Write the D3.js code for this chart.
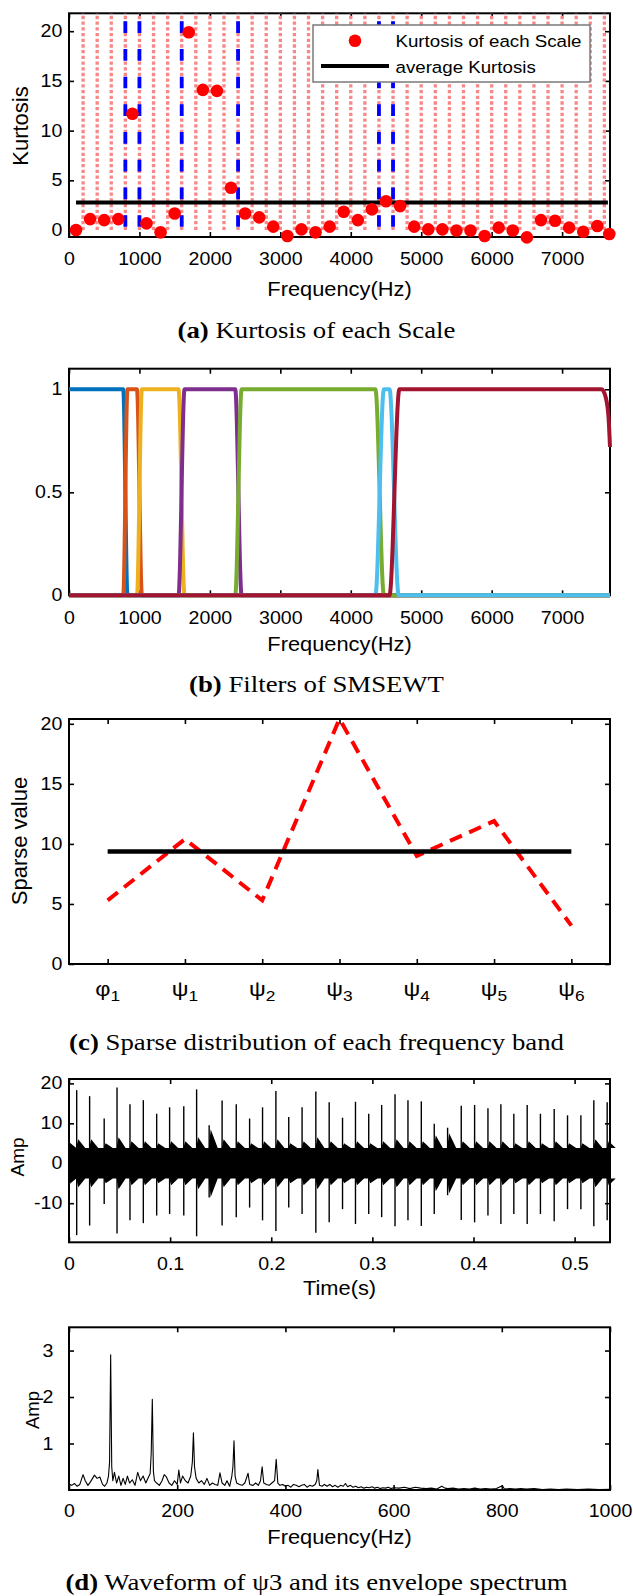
<!DOCTYPE html>
<html>
<head>
<meta charset="utf-8">
<title>SMSEWT analysis of the bearing signal</title>
<script src="https://cdn.jsdelivr.net/npm/d3@7/dist/d3.min.js"></script>
<style>
  html, body { margin: 0; padding: 0; background: #fff; }
  svg { display: block; }
</style>
</head>
<body>
<svg id="fig" width="633" height="1596" viewBox="0 0 633 1596"></svg>
<script>
// ---------------- data ----------------

// (a) kurtosis of each 200 Hz scale
const scaleCenters = [100,300,500,700,900,1100,1300,1500,1700,1900,2100,2300,2500,2700,2900,3100,3300,3500,3700,3900,
                      4100,4300,4500,4700,4900,5100,5300,5500,5700,5900,6100,6300,6500,6700,6900,7100,7300,7500,7670];
const kurtosis = [0.0,1.1,1.0,1.1,11.7,0.67,-0.23,1.67,19.9,14.1,14.0,4.25,1.67,1.27,0.34,-0.6,0.07,-0.23,0.34,1.84,
                  1.0,2.08,2.9,2.41,0.34,0.07,0.07,-0.05,-0.05,-0.6,0.24,-0.05,-0.74,1.0,0.93,0.24,-0.17,0.4,-0.4];
const avgKurtosis = 2.78;
const avgSpan = [100, 7650];
const scaleEdges = [200,400,600,800,1000,1200,1400,1600,1800,2000,2200,2400,2600,2800,3000,3200,3400,3600,3800,
                    4000,4200,4400,4600,4800,5000,5200,5400,5600,5800,6000,6200,6400,6600,6800,7000,7200,7400,7600];
const bandBoundaries = [800,1000,1600,2400,4400,4600];
const boundaryRange = [21, 0];
const freqTicks = [0,1000,2000,3000,4000,5000,6000,7000];
const kurtTicks = [0,5,10,15,20];

// (b) SMSEWT filter bank, breakpoints [Hz, gain]
const filterColors = ["#0072BD","#D95319","#EDB120","#7E2F8E","#77AC30","#4DBEEE","#A2142F"];
const filterPhi1 = [[0,1],[770,1],[830,0],[7680,0]];
const filterPsi1 = [[0,0],[770,0],[830,1],[965,1],[1035,0],[7680,0]];
const filterPsi2 = [[0,0],[965,0],[1035,1],[1555,1],[1640,0],[7680,0]];
const filterPsi3 = [[0,0],[1555,0],[1640,1],[2360,1],[2450,0],[7680,0]];
const filterPsi4 = [[0,0],[2360,0],[2450,1],[4350,1],[4470,0],[7680,0]];
const filterPsi5 = [[0,0],[4350,0],[4470,1],[4550,1],[4680,0],[7680,0]];
const filterPsi6 = [[0,0],[4550,0],[4690,1],[7560,1],[7620,0.96],[7660,0.86],[7680,0.72]];
const gainTicks = [0,0.5,1];

// (c) sparse value of each frequency band
const bandSymbols = ["φ","ψ","ψ","ψ","ψ","ψ","ψ"];
const bandIndices = ["1","1","2","3","4","5","6"];
const sparseValues = [5.3,10.4,5.3,20.4,9.0,11.9,3.2];
const sparseTicks = [0,5,10,15,20];

// (d) waveform of psi3: impulse times [s], positive / negative peaks, ringing level
const impulseTimes = [0.0076,0.0204,0.0348,0.0475,0.0603,0.0735,0.0867,0.0995,0.1135,0.1262,0.1386,0.1514,0.1654,0.1786,
                      0.1914,0.2046,0.2173,0.2305,0.2441,0.2573,0.2705,0.2833,0.2964,0.3092,0.3224,0.3352,0.3484,0.3612,
                      0.3744,0.3879,0.4011,0.4143,0.4271,0.4399,0.4531,0.4662,0.4798,0.4930,0.5062,0.5190,0.5322];
const impulsePos = [18.3,16.8,11.2,19.0,14.8,15.8,12.4,14.0,14.3,18.5,9.5,15.7,14.8,11.2,14.0,18.1,11.6,14.0,18.0,15.3,
                    11.4,15.4,12.4,14.6,17.3,15.8,15.5,9.9,8.9,14.4,14.6,13.8,14.8,12.4,14.6,12.4,13.6,12.0,12.0,15.8,15.3];
const impulseNeg = [-18.0,-15.6,-10.2,-17.6,-14.3,-15.0,-13.1,-12.7,-13.1,-18.3,-8.6,-15.6,-13.5,-11.1,-14.3,-17.0,-11.1,
                    -12.7,-17.4,-14.8,-11.5,-15.2,-12.7,-13.5,-15.8,-14.3,-15.7,-12.7,-8.0,-14.2,-14.8,-13.1,-15.2,-12.7,
                    -15.2,-12.7,-14.5,-11.5,-11.5,-15.8,-14.3];
const ringLevel = [6,6,5,6.5,5.5,5.5,5,5.5,5.5,6.5,8.5,6,5.5,5,5.5,6,5,5.5,6.5,5.5,5,5.5,5,5.5,6,5.5,5.5,7,7.5,5.5,5.5,
                   5.5,5.5,5,5.5,5,5.5,5,5,6,5.5];
const noiseFloor = 3.8;
const timeTicks = [0,0.1,0.2,0.3,0.4,0.5];
const ampTicks = [-10,0,10,20];

// (d) envelope spectrum [Hz, amplitude]
const envSpectrum = [
  [0,0.13],[5,0.1],[10,0.14],[15,0.08],[20,0.12],[26,0.33],[30,0.2],[35,0.1],[40,0.18],[47,0.32],[52,0.25],[57,0.28],
  [62,0.12],[66,0.08],[70,0.15],[73,0.3],[75,0.6],[77,2.91],[79,0.5],[81,0.2],[84,0.38],[88,0.15],[92,0.3],[96,0.1],
  [100,0.25],[104,0.12],[108,0.3],[112,0.15],[117,0.22],[122,0.1],[127,0.38],[132,0.2],[137,0.3],[142,0.15],[147,0.28],
  [150,0.35],[152,0.8],[154,1.95],[156,0.4],[158,0.2],[162,0.15],[167,0.1],[172,0.2],[176,0.33],[180,0.28],[185,0.15],
  [190,0.1],[195,0.2],[200,0.12],[203,0.43],[206,0.15],[210,0.3],[215,0.2],[220,0.15],[225,0.3],[228,0.6],[230,1.23],
  [232,0.5],[235,0.25],[240,0.15],[245,0.2],[250,0.12],[255,0.25],[260,0.1],[265,0.15],[270,0.12],[275,0.1],[279,0.37],
  [283,0.15],[288,0.1],[292,0.2],[297,0.08],[301,0.3],[303,0.5],[305,1.06],[307,0.3],[310,0.15],[315,0.12],[320,0.1],
  [325,0.15],[331,0.36],[334,0.12],[340,0.1],[345,0.15],[350,0.1],[354,0.2],[357,0.5],[360,0.15],[365,0.12],[370,0.1],
  [375,0.15],[380,0.2],[383,0.66],[386,0.15],[390,0.1],[395,0.12],[400,0.08],[405,0.1],[410,0.06],[415,0.12],[420,0.1],
  [425,0.07],[430,0.1],[435,0.12],[440,0.06],[445,0.1],[450,0.08],[455,0.12],[458,0.2],[460,0.44],[463,0.1],[468,0.08],
  [472,0.12],[477,0.08],[482,0.12],[487,0.07],[492,0.1],[497,0.06],[502,0.1],[507,0.08],[511,0.14],[515,0.07],[520,0.1],
  [525,0.06],[530,0.08],[535,0.05],[540,0.07],[545,0.04],[550,0.06],[555,0.05],[560,0.07],[565,0.04],[570,0.06],
  [575,0.03],[580,0.05],[585,0.04],[590,0.06],[595,0.03],[600,0.05],[610,0.04],[620,0.06],[630,0.03],[640,0.06],
  [650,0.04],[660,0.03],[670,0.04],[680,0.02],[689,0.08],[695,0.04],[700,0.03],[710,0.04],[720,0.02],[730,0.03],
  [740,0.02],[750,0.04],[760,0.02],[770,0.03],[780,0.02],[790,0.03],[801,0.09],[805,0.02],[815,0.03],[825,0.02],
  [835,0.03],[845,0.02],[860,0.03],[875,0.01],[890,0.02],[905,0.01],[920,0.02],[940,0.01],[960,0.02],[980,0.01],[1000,0.015]
];
const specTicks = [0,200,400,600,800,1000];
const specAmpTicks = [1,2,3];

// ---------------- drawing ----------------
const SANS = "'Liberation Sans', Arial, Helvetica, sans-serif";
const SERIF = "'Liberation Serif', 'Times New Roman', Times, serif";
const SX = 1.12;      // horizontal stretch of sans text
const SX_CAP = 1.2;   // horizontal stretch of captions
const TICK = 5;
const PLOT_L = 69, PLOT_R = 610;

const svg = d3.select("#fig");

function sansText(parent, x, y, str, size, opts = {}) {
  const rot = opts.rotate ? ` rotate(${opts.rotate})` : "";
  const sx = opts.sx ?? SX;
  return parent.append("text")
    .attr("transform", `translate(${x},${y}) scale(${sx},1)${rot}`)
    .attr("font-family", SANS)
    .attr("font-size", size)
    .attr("text-anchor", opts.anchor || "middle")
    .attr("fill", "#000")
    .text(str);
}

function caption(y, letter, rest) {
  const t = svg.append("text")
    .attr("transform", `translate(316.5,${y}) scale(${SX_CAP},1)`)
    .attr("font-family", SERIF)
    .attr("font-size", 22.3)
    .attr("text-anchor", "middle")
    .attr("fill", "#000");
  t.append("tspan").attr("font-weight", "bold").text(`(${letter})`);
  t.append("tspan").text(" " + rest);
}

function axesBox(g, x, y, cfg) {
  const [xl, xr] = x.range();
  const [yb, yt] = y.range();
  const size = cfg.tickSize || 17.5;
  const bottom = g.append("g").attr("transform", `translate(0,${yb})`)
    .call(d3.axisBottom(x).tickValues(cfg.xTicks)
      .tickFormat(cfg.xLabels === false ? "" : (cfg.xFormat || (d => String(d))))
      .tickSizeInner(-TICK).tickSizeOuter(0).tickPadding(cfg.xPad ?? 16));
  const top = g.append("g").attr("transform", `translate(0,${yt})`)
    .call(d3.axisTop(x).tickValues(cfg.xTicks).tickFormat("").tickSizeInner(-TICK).tickSizeOuter(0));
  const left = g.append("g").attr("transform", `translate(${xl},0)`)
    .call(d3.axisLeft(y).tickValues(cfg.yTicks).tickFormat(cfg.yFormat || (d => String(d)))
      .tickSizeInner(-TICK).tickSizeOuter(0).tickPadding(cfg.yPad ?? 6));
  const right = g.append("g").attr("transform", `translate(${xr},0)`)
    .call(d3.axisRight(y).tickValues(cfg.yTicks).tickFormat("").tickSizeInner(-TICK).tickSizeOuter(0));
  [bottom, top, left, right].forEach(a => {
    a.select(".domain").remove();
    a.attr("font-family", SANS).attr("font-size", size);
    a.selectAll(".tick line").attr("stroke", "#000").attr("stroke-width", 1.6);
    a.selectAll(".tick text").attr("fill", "#000").attr("transform", `scale(${SX},1)`);
  });
  g.append("rect")
    .attr("x", xl).attr("y", yt).attr("width", xr - xl).attr("height", yb - yt)
    .attr("fill", "none").attr("stroke", "#000").attr("stroke-width", 2);
  return { bottom, top, left, right };
}

// ---- (a) Kurtosis of each scale ----
{
  const g = svg.append("g");
  const x = d3.scaleLinear().domain([0, 7680]).range([PLOT_L, PLOT_R]);
  const y = d3.scaleLinear().domain([-0.7, 21.8]).range([237, 13.3]);
  axesBox(g, x, y, { xTicks: freqTicks, yTicks: kurtTicks });

  // scale edges (dotted)
  g.append("g").selectAll("line").data(scaleEdges).join("line")
    .attr("x1", d => x(d)).attr("x2", d => x(d))
    .attr("y1", y(0)).attr("y2", y.range()[1])
    .attr("stroke", "#f98787").attr("stroke-width", 3.3)
    .attr("stroke-dasharray", "3.3 2.4");

  // selected band boundaries (dashed)
  g.append("g").selectAll("line").data(bandBoundaries).join("line")
    .attr("x1", d => x(d)).attr("x2", d => x(d))
    .attr("y1", y(boundaryRange[0])).attr("y2", y(boundaryRange[1]))
    .attr("stroke", "#0000ff").attr("stroke-width", 3.8)
    .attr("stroke-dasharray", "11.7 16");

  // average kurtosis
  g.append("line")
    .attr("x1", x(avgSpan[0])).attr("x2", x(avgSpan[1]))
    .attr("y1", y(avgKurtosis)).attr("y2", y(avgKurtosis))
    .attr("stroke", "#000").attr("stroke-width", 4);

  // kurtosis markers
  g.append("g").selectAll("circle").data(scaleCenters).join("circle")
    .attr("cx", d => x(d)).attr("cy", (d, i) => y(kurtosis[i]))
    .attr("r", 6.3).attr("fill", "#ff0000");

  // legend
  const lg = g.append("g");
  lg.append("rect").attr("x", 313).attr("y", 25).attr("width", 277).attr("height", 57)
    .attr("fill", "#fff").attr("stroke", "#7a7a7a").attr("stroke-width", 1.5);
  lg.append("circle").attr("cx", 355).attr("cy", 40.7).attr("r", 6.3).attr("fill", "#ff0000");
  sansText(lg, 395.5, 47, "Kurtosis of each Scale", 16.7, { anchor: "start" });
  lg.append("line").attr("x1", 321).attr("x2", 389).attr("y1", 66).attr("y2", 66)
    .attr("stroke", "#000").attr("stroke-width", 4);
  sansText(lg, 395.5, 72.5, "average Kurtosis", 16.7, { anchor: "start" });

  sansText(g, 339.5, 296, "Frequency(Hz)", 19.5);
  sansText(g, 28, 126, "Kurtosis", 22, { rotate: -90, sx: 1 });
  caption(338, "a", "Kurtosis of each Scale");
}

// ---- (b) Filters of SMSEWT ----
{
  const g = svg.append("g");
  const x = d3.scaleLinear().domain([0, 7680]).range([PLOT_L, PLOT_R]);
  const y = d3.scaleLinear().domain([0, 1.1]).range([595.3, 368.7]);
  axesBox(g, x, y, { xTicks: freqTicks, yTicks: gainTicks });
  const line = d3.line().x(d => x(d[0])).y(d => y(d[1])).curve(d3.curveMonotoneX);
  const filters = [filterPhi1, filterPsi1, filterPsi2, filterPsi3, filterPsi4, filterPsi5, filterPsi6];
  g.append("g").selectAll("path").data(filters).join("path")
    .attr("d", line)
    .attr("fill", "none")
    .attr("stroke", (d, i) => filterColors[i])
    .attr("stroke-width", 4)
    .attr("stroke-linejoin", "round");
  sansText(g, 339.5, 651, "Frequency(Hz)", 19.5);
  caption(692, "b", "Filters of SMSEWT");
}

// ---- (c) Sparse distribution of each frequency band ----
{
  const g = svg.append("g");
  const idx = sparseValues.map((d, i) => i + 1);
  const x = d3.scaleLinear().domain([0.5, 7.5]).range([PLOT_L, PLOT_R]);
  const y = d3.scaleLinear().domain([0, 20.4]).range([964, 719]);
  axesBox(g, x, y, { xTicks: idx, yTicks: sparseTicks, xLabels: false });

  // band names with subscripts
  const lab = g.append("g").attr("font-family", SANS).attr("fill", "#000");
  idx.forEach((k, i) => {
    const t = lab.append("text")
      .attr("transform", `translate(${x(k)},996) scale(${SX},1)`)
      .attr("text-anchor", "middle").attr("font-size", 21);
    t.append("tspan").text(bandSymbols[i]);
    t.append("tspan").attr("font-size", 15.5).attr("dy", 5).text(bandIndices[i]);
  });

  const line = d3.line().x((d, i) => x(idx[i])).y(d => y(d));
  g.append("path").datum(sparseValues).attr("d", line)
    .attr("fill", "none").attr("stroke", "#ff0000").attr("stroke-width", 4)
    .attr("stroke-dasharray", "13 8");
  const meanSparse = d3.mean(sparseValues);
  g.append("line")
    .attr("x1", x(1)).attr("x2", x(7))
    .attr("y1", y(meanSparse)).attr("y2", y(meanSparse))
    .attr("stroke", "#000").attr("stroke-width", 4.5);
  sansText(g, 27, 841, "Sparse value", 22, { rotate: -90, sx: 1 });
  caption(1050, "c", "Sparse distribution of each frequency band");
}

// ---- (d) Waveform of psi3 ----
{
  const g = svg.append("g");
  const x = d3.scaleLinear().domain([0, 0.535]).range([PLOT_L, PLOT_R]);
  const y = d3.scaleLinear().domain([-19.8, 21.1]).range([1242.3, 1079]);
  axesBox(g, x, y, { xTicks: timeTicks, yTicks: ampTicks, xPad: 15 });

  // background vibration band with ringing after each impact
  const band = [[0, noiseFloor + 1.5]];
  impulseTimes.forEach((t, i) => {
    band.push([t - 0.0004, noiseFloor]);
    band.push([t + 0.0015, ringLevel[i]]);
    band.push([t + 0.0085, noiseFloor]);
  });
  band.push([0.535, noiseFloor]);
  const area = d3.area().x(d => x(d[0])).y0(d => y(-d[1])).y1(d => y(d[1]));
  g.append("path").datum(band).attr("d", area).attr("fill", "#000");

  // impacts
  g.append("g").selectAll("line").data(impulseTimes).join("line")
    .attr("x1", d => x(d)).attr("x2", d => x(d))
    .attr("y1", (d, i) => y(impulsePos[i])).attr("y2", (d, i) => y(impulseNeg[i]))
    .attr("stroke", "#000").attr("stroke-width", 1.4);

  sansText(g, 339.5, 1295, "Time(s)", 19.5);
  sansText(g, 23.5, 1157, "Amp", 19, { rotate: -90, sx: 1 });
}

// ---- (d) Envelope spectrum ----
{
  const g = svg.append("g");
  const x = d3.scaleLinear().domain([0, 1000]).range([PLOT_L, PLOT_R]);
  const y = d3.scaleLinear().domain([0, 3.5]).range([1490, 1327.3]);
  axesBox(g, x, y, { xTicks: specTicks, yTicks: specAmpTicks, xPad: 15, yPad: 14 });
  const line = d3.line().x(d => x(d[0])).y(d => y(d[1]));
  g.append("path").datum(envSpectrum).attr("d", line)
    .attr("fill", "none").attr("stroke", "#000").attr("stroke-width", 1.1)
    .attr("stroke-linejoin", "round");
  sansText(g, 339.5, 1544, "Frequency(Hz)", 19.5);
  sansText(g, 39, 1410, "Amp", 18.5, { rotate: -90, sx: 1 });
  caption(1590, "d", "Waveform of ψ3 and its envelope spectrum");
}
</script>
</body>
</html>
